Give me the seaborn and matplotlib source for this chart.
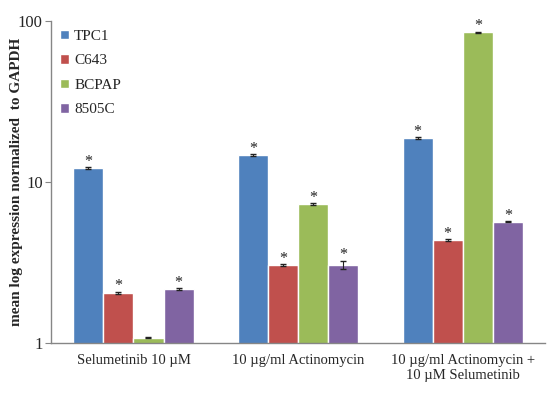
import numpy as np
import pandas as pd
import matplotlib
matplotlib.use("Agg")
import matplotlib.pyplot as plt
import seaborn as sns

# values (log axis)
treatments = ["Selumetinib 10 \u00b5M", "10 \u00b5g/ml Actinomycin",
              "10 \u00b5g/ml Actinomycin +\n10 \u00b5M Selumetinib"]
cell_lines = ["TPC1", "C643", "BCPAP", "8505C"]
tpc1 = [12.2, 14.7, 18.8]
c643 = [2.05, 3.06, 4.36]
bcpap = [1.08, 7.3, 85.0]
c8505 = [2.16, 3.06, 5.67]
tpc1_err = [0.15, 0.15, 0.2]
c643_err = [0.03, 0.03, 0.04]
bcpap_err = [0.01, 0.08, 0.8]
c8505_err = [0.03, 0.18, 0.05]
# asterisk shown above bar?
tpc1_sig = [True, True, True]
c643_sig = [True, True, True]
bcpap_sig = [False, True, True]
c8505_sig = [True, True, True]

colors = ["#4F81BD", "#C0504D", "#9BBB59", "#8064A2"]

rows = []
for line, vals, errs, sigs in zip(cell_lines, [tpc1, c643, bcpap, c8505],
                                  [tpc1_err, c643_err, bcpap_err, c8505_err],
                                  [tpc1_sig, c643_sig, bcpap_sig, c8505_sig]):
    for t, v, e, s in zip(treatments, vals, errs, sigs):
        rows.append({"treatment": t, "line": line, "value": v, "err": e, "sig": s})
df = pd.DataFrame(rows)

sns.set_style("white")
plt.rcParams["font.family"] = ["Liberation Serif", "DejaVu Serif"]

fig = plt.figure(figsize=(5.5, 3.93), dpi=100)
ax = fig.add_axes([0.093, 0.127, 0.898, 0.82])
ax.set_yscale("log")

sns.barplot(data=df, x="treatment", y="value", hue="line", order=treatments,
            hue_order=cell_lines, palette=colors, width=0.73, errorbar=None,
            saturation=1, ax=ax)

# error bars and asterisks on each bar
for cont, line in zip(ax.containers, cell_lines):
    sub = df[df["line"] == line].set_index("treatment").loc[treatments]
    for bar, (_, r) in zip(cont, sub.iterrows()):
        xc = bar.get_x() + bar.get_width() / 2
        ax.errorbar(xc, r["value"], yerr=r["err"], fmt="none", ecolor="#222222",
                    elinewidth=0.8, capsize=2.5, capthick=1.0)
        if r["sig"]:
            ax.text(xc, (r["value"] + r["err"]) * 10 ** (1.5 / 161), "*",
                    ha="center", va="baseline", fontsize=11.5, color="#222222")

ax.set_ylim(1, 100)
ax.set_xlim(-0.5, 2.5)
ax.set_yticks([1, 10, 100])
ax.set_yticklabels(["1", "10", "100"])
ax.yaxis.set_minor_locator(matplotlib.ticker.NullLocator())
ax.set_xticks([0.5, 1.5], minor=True)
ax.tick_params(axis="x", which="major", length=0, labelsize=10.5, pad=8)
ax.tick_params(axis="x", which="minor", length=5, color="#868686", direction="out")
ax.tick_params(axis="y", which="major", length=4, color="#868686", direction="out",
               labelsize=12, pad=2)
ax.tick_params(left=True)
for lab in ax.get_xticklabels():
    lab.set_linespacing(1.15)

for side in ["top", "right"]:
    ax.spines[side].set_visible(False)
for side in ["left", "bottom"]:
    ax.spines[side].set_color("#868686")
    ax.spines[side].set_linewidth(1)

ax.set_xlabel("")
ax.set_ylabel("mean log expression normalized  to GAPDH", fontsize=11,
              fontweight="bold")
ax.yaxis.set_label_coords(-0.058, 0.5)

ax.legend(loc="upper left", bbox_to_anchor=(0.0, 1.0), frameon=False,
          fontsize=11, handlelength=0.55, handleheight=0.55,
          handletextpad=0.35, labelspacing=0.75, borderaxespad=0.2)

fig.savefig("out.png", dpi=100)
